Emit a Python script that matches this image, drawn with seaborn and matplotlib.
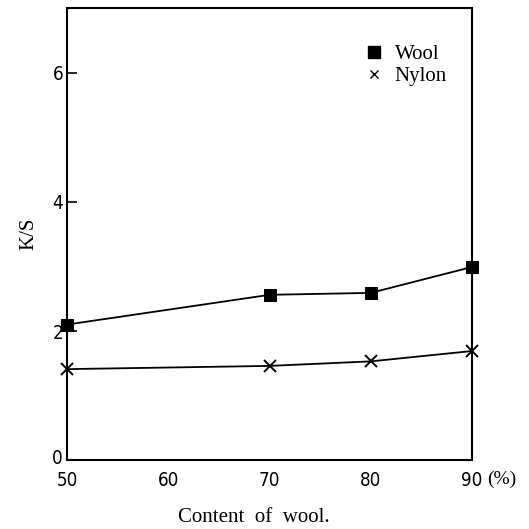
import matplotlib
matplotlib.use("Agg")
import matplotlib.pyplot as plt
import matplotlib.transforms as mtransforms
from matplotlib.lines import Line2D
import seaborn as sns
import pandas as pd

# K/S of each fibre component versus wool content in the blend
wool_content = [50, 70, 80, 90]
ks_wool = [2.1, 2.56, 2.59, 2.99]
ks_nylon = [1.41, 1.46, 1.53, 1.69]

x_ticks = [50, 60, 70, 80, 90]
y_ticks = [0, 2, 4, 6]

df = pd.DataFrame({
    "content": wool_content * 2,
    "ks": ks_wool + ks_nylon,
    "fibre": ["Wool"] * len(wool_content) + ["Nylon"] * len(wool_content),
})

sns.set_style("white")
plt.rcParams["text.color"] = "black"
serif = ["Liberation Serif", "DejaVu Serif"]
narrow = ["DejaVu Sans"]

fig = plt.figure(figsize=(5.29, 5.29), dpi=100)
ax = fig.add_axes([0.127, 0.130, 0.765, 0.855])

sns.lineplot(data=df[df.fibre == "Wool"], x="content", y="ks", ax=ax,
             color="black", lw=1.3, marker="s", markersize=8.5,
             markeredgecolor="black", markerfacecolor="black", clip_on=False)
sns.lineplot(data=df[df.fibre == "Nylon"], x="content", y="ks", ax=ax,
             color="black", lw=1.3, marker="x", markersize=8,
             markeredgewidth=1.4, markeredgecolor="black", clip_on=False)

ax.set_xlim(50, 90)
ax.set_ylim(0, 7)
ax.set_xticks(x_ticks)
ax.set_yticks(y_ticks)
ax.set_xticklabels([str(v) for v in x_ticks], family=narrow, fontsize=13.5,
                   stretch="condensed", color="black")
ax.set_yticklabels([str(v) for v in y_ticks], family=narrow, fontsize=13.5,
                   stretch="condensed", color="black")
ax.tick_params(axis="y", left=True, direction="in", length=7, width=1.2,
               pad=3, colors="black")
ax.tick_params(axis="x", bottom=False, length=0, pad=8)

# lift the "0" label slightly so it sits clear of the "50" below it
zero_label = ax.get_yticklabels()[0]
zero_label.set_transform(zero_label.get_transform() +
                         mtransforms.ScaledTranslation(0, 3 / 72, fig.dpi_scale_trans))

for s in ax.spines.values():
    s.set_visible(True)
    s.set_color("black")
    s.set_linewidth(1.5)

ax.set_xlabel("")
ax.set_ylabel("K/S", family=serif, fontsize=15, labelpad=10, color="black")
fig.text(254 / 529, 1 - 517 / 529, "Content  of  wool.", family=serif,
         fontsize=15, ha="center", va="center")
ax.text(1.037, -0.042, "(%)", transform=ax.transAxes, family=serif,
        fontsize=14, ha="left", va="center")

handles = [
    Line2D([], [], ls="none", marker="s", color="black", markersize=8.5),
    Line2D([], [], ls="none", marker="x", color="black", markersize=6,
           markeredgewidth=1.0),
]
leg = ax.legend(handles, ["Wool", "Nylon"], loc="upper right",
                bbox_to_anchor=(0.985, 0.96), frameon=False,
                prop={"family": serif, "size": 15}, handlelength=0.8,
                handletextpad=0.6, labelspacing=0.1)

fig.savefig("out.png", dpi=100)
